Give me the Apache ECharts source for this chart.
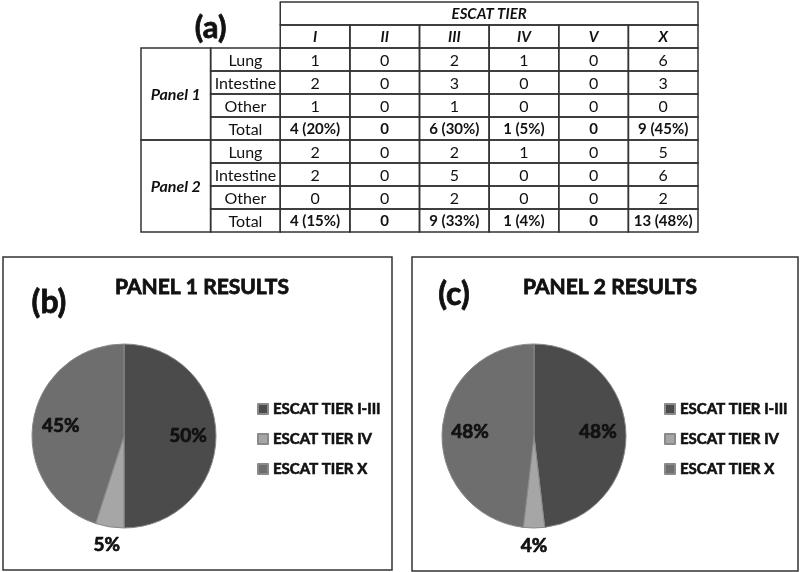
<!DOCTYPE html>
<html>
<head>
    <meta charset="utf-8">
    <title>ESCAT tier results</title>
    <script src="https://cdn.jsdelivr.net/npm/echarts@6/dist/echarts.min.js"></script>
</head>
<body style="margin: 0; padding: 0; background: #fff;">
<div id="main" style="width: 800px; height: 572px;"></div>
<script type="text/javascript">
    // table data (a)
    var tiers = ['I', 'II', 'III', 'IV', 'V', 'X'];
    var organs = ['Lung', 'Intestine', 'Other'];
    var panel1 = [[1, 0, 2, 1, 0, 6], [2, 0, 3, 0, 0, 3], [1, 0, 1, 0, 0, 0]];
    var panel2 = [[2, 0, 2, 1, 0, 5], [2, 0, 5, 0, 0, 6], [0, 0, 2, 0, 0, 2]];

    // pie data (b) and (c)
    var pieNames = ['ESCAT TIER I-III', 'ESCAT TIER IV', 'ESCAT TIER X'];
    var pie1Values = [10, 1, 9];
    var pie2Values = [13, 1, 13];
    var pieColors = ['#4b4b4b', '#a6a6a6', '#6e6e6e'];

    var FONT = 'Lato, "Open Sans", sans-serif';
    var INK = '#111';

    // build the table cells: col, row, colspan, rowspan
    var cells = [];
    cells.push({c: 0, r: 0, w: 2, h: 2, text: '(a)', font: 'bold 31px ' + FONT, border: false, dy: 3, heavy: true});
    cells.push({c: 2, r: 0, w: 6, h: 1, text: 'ESCAT TIER', font: 'italic bold 15px ' + FONT});
    tiers.forEach(function (t, i) {
        cells.push({c: 2 + i, r: 1, w: 1, h: 1, text: t, font: 'italic bold 15px ' + FONT});
    });
    [panel1, panel2].forEach(function (p, pi) {
        var r0 = 2 + pi * 4;
        cells.push({c: 0, r: r0, w: 1, h: 4, text: 'Panel ' + (pi + 1), font: 'italic bold 16px ' + FONT});
        var totals = [0, 0, 0, 0, 0, 0];
        organs.forEach(function (o, oi) {
            cells.push({c: 1, r: r0 + oi, w: 1, h: 1, text: o, font: '16px ' + FONT});
            p[oi].forEach(function (v, vi) {
                totals[vi] += v;
                cells.push({c: 2 + vi, r: r0 + oi, w: 1, h: 1, text: String(v), font: '16px ' + FONT});
            });
        });
        var sum = totals.reduce(function (a, b) { return a + b; }, 0);
        cells.push({c: 1, r: r0 + 3, w: 1, h: 1, text: 'Total', font: '16px ' + FONT});
        totals.forEach(function (t, ti) {
            var txt = t === 0 ? '0' : t + ' (' + Math.round(t / sum * 100) + '%)';
            cells.push({c: 2 + ti, r: r0 + 3, w: 1, h: 1, text: txt, font: 'bold 15px ' + FONT});
        });
    });

    function pieData(values) {
        var sum = values.reduce(function (a, b) { return a + b; }, 0);
        return values.map(function (v, i) {
            var small = v / sum < 0.1;
            return {
                name: pieNames[i],
                value: v,
                itemStyle: {color: pieColors[i]},
                labelLine: {show: false, length: small ? 18 : -28, length2: 0}
            };
        });
    }

    function pieSeries(center, values) {
        return {
            type: 'pie',
            center: center,
            radius: 92,
            startAngle: 90,
            clockwise: true,
            avoidLabelOverlap: false,
            percentPrecision: 0,
            silent: true,
            itemStyle: {borderColor: '#8a8a8a', borderWidth: 1},
            label: {
                position: 'outside',
                formatter: '{d}%',
                distanceToLabelLine: 0,
                fontFamily: FONT,
                fontWeight: 'bold',
                fontSize: 19,
                color: INK,
                textBorderColor: INK,
                textBorderWidth: 0.7
            },
            labelLayout: {align: 'center'},
            data: pieData(values)
        };
    }

    function legendAt(left) {
        return {
            data: pieNames,
            orient: 'vertical',
            left: left,
            top: 400,
            padding: 0,
            icon: 'rect',
            itemWidth: 10,
            itemHeight: 10,
            itemGap: 12,
            selectedMode: false,
            textStyle: {fontFamily: FONT, fontWeight: 'bold', fontSize: 15, color: INK, lineHeight: 18,
                textBorderColor: INK, textBorderWidth: 0.6}
        };
    }

    function titleAt(text, x, y, size) {
        return {
            text: text, left: x, top: y, textAlign: 'center',
            textStyle: {fontFamily: FONT, fontWeight: 'bold', fontSize: size, color: INK,
                textBorderColor: INK, textBorderWidth: 0.8}
        };
    }

    var myChart = echarts.init(document.getElementById('main'));

    var option = {
        animation: false,
        backgroundColor: '#fff',
        title: [
            titleAt('PANEL 1 RESULTS', 197, 272, 21),
            titleAt('(b)', 44, 282, 32),
            titleAt('PANEL 2 RESULTS', 605, 272, 21),
            titleAt('(c)', 449, 274, 32)
        ],
        legend: [legendAt(257), legendAt(664)],
        graphic: [
            {type: 'rect', shape: {x: 3, y: 257, width: 389, height: 313},
                style: {fill: 'none', stroke: '#333', lineWidth: 1.5}},
            {type: 'rect', shape: {x: 412, y: 257, width: 386, height: 314},
                style: {fill: 'none', stroke: '#333', lineWidth: 1.5}}
        ],
        grid: {left: 141, top: 2, width: 557, height: 230},
        xAxis: {type: 'value', min: 0, max: 8, show: false},
        yAxis: {type: 'value', min: 0, max: 10, inverse: true, show: false},
        series: [
            {
                type: 'custom',
                silent: true,
                data: cells.map(function (c) { return [c.c, c.r]; }),
                renderItem: function (params, api) {
                    var cell = cells[params.dataIndex];
                    var p0 = api.coord([cell.c, cell.r]);
                    var p1 = api.coord([cell.c + cell.w, cell.r + cell.h]);
                    return {
                        type: 'group',
                        children: [
                            {
                                type: 'rect',
                                shape: {x: p0[0], y: p0[1], width: p1[0] - p0[0], height: p1[1] - p0[1]},
                                style: {fill: 'none', stroke: cell.border === false ? 'none' : '#333', lineWidth: 1.5}
                            },
                            {
                                type: 'text',
                                style: {
                                    text: cell.text,
                                    x: (p0[0] + p1[0]) / 2,
                                    y: (p0[1] + p1[1]) / 2 + (cell.dy || 1),
                                    align: 'center',
                                    verticalAlign: 'middle',
                                    font: cell.font,
                                    fill: INK,
                                    stroke: cell.heavy ? INK : null,
                                    lineWidth: cell.heavy ? 0.8 : 0
                                }
                            }
                        ]
                    };
                }
            },
            pieSeries([124, 436], pie1Values),
            pieSeries([534, 436], pie2Values)
        ]
    };

    myChart.setOption(option);
</script>
</body>
</html>
